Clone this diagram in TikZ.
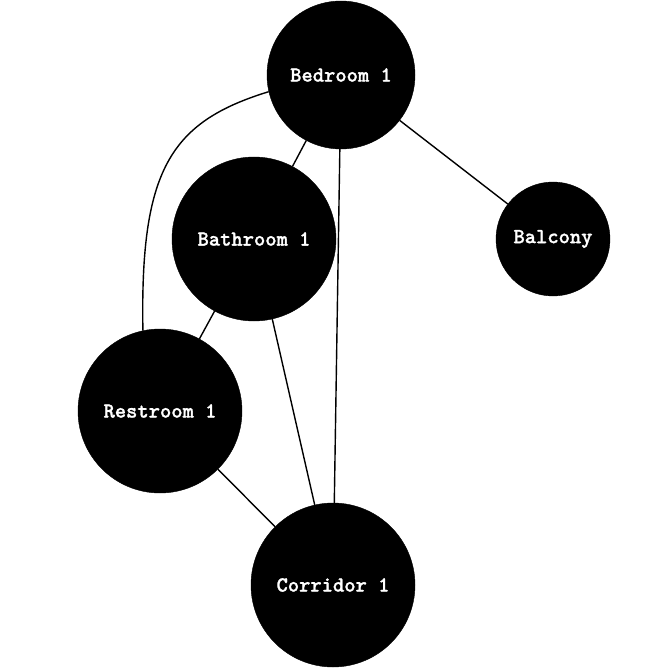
\documentclass[tikz,border=0pt]{standalone}
\usepackage{fontspec}
\setmonofont{lmmonolt10-regular.otf}[BoldFont=lmmonolt10-bold.otf,BoldFeatures={FakeBold=1.2}]
\begin{document}
\begin{tikzpicture}[x=1pt,y=-1pt,
  room/.style={circle,fill=black,draw=black,inner sep=0pt,text=white,
    font=\ttfamily\bfseries\fontsize{21.5}{25}\selectfont},
  link/.style={draw=black,line width=1.4pt}]
\useasboundingbox (0,0) rectangle (668,668);
\node[room,minimum size=148] (bed) at (341,75) {Bedroom 1};
\node[room,minimum size=164] (bath) at (254,239) {Bathroom 1};
\node[room,minimum size=114] (bal) at (553,239) {Balcony};
\node[room,minimum size=164] (rest) at (160,411) {Restroom 1};
\node[room,minimum size=164] (cor) at (333,585) {Corridor 1};
\draw[link] (bed) -- (bath);
\draw[link] (bed) -- (bal);
\draw[link] (bed) -- (cor);
\draw[link] (bed.-167) .. controls (170,122) and (140,170) .. (rest.102);
\draw[link] (bath) -- (rest);
\draw[link] (bath) -- (cor);
\draw[link] (rest) -- (cor);
\end{tikzpicture}
\end{document}
